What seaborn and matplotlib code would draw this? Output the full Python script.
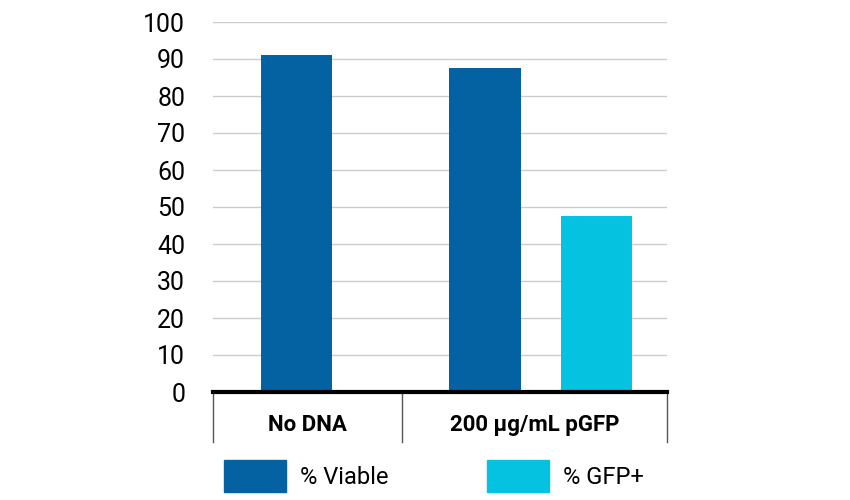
import matplotlib
matplotlib.use("Agg")
import matplotlib.pyplot as plt
import seaborn as sns
import pandas as pd
from matplotlib.patches import Patch

groups = ["No DNA", "200 µg/mL pGFP"]
series = ["% Viable", "% Viable", "% GFP+"]
values = [91, 87.6, 47.6]
bar_pos = [2.965, 4.85, 5.965]          # layout positions
group_centers = [3.075, 5.345]
separators = [2.13, 4.02, 6.67]
colors = {"% Viable": "#0462A2", "% GFP+": "#04C2E0"}

plt.rcParams["font.family"] = "Roboto"
df = pd.DataFrame({"pos": bar_pos, "value": values, "series": series})

fig = plt.figure(figsize=(8.5, 5), dpi=100)
ax = fig.add_axes([213/850, 108/500, 454/850, 370/500])
sns.barplot(data=df, x="pos", y="value", hue="series", palette=colors,
            native_scale=True, dodge=False, width=0.64, legend=False, ax=ax,
            saturation=1, zorder=3)
ax.set_xlim(2.13, 6.67)
ax.set_ylim(0, 100)
ax.set_yticks(range(0, 101, 10))
ax.yaxis.grid(True, color="#cccccc", linewidth=1, zorder=0)
ax.set_axisbelow(True)
for s in ["top", "right", "left"]:
    ax.spines[s].set_visible(False)
ax.spines["bottom"].set_linewidth(3)
ax.spines["bottom"].set_zorder(5)
ax.tick_params(axis="y", length=0, labelsize=18, pad=20)
ax.set_xticks([])
ax.set_xlabel("")
ax.set_ylabel("")
for x in separators:
    ax.plot([x, x], [0, -13.5], color="#555555", lw=1, clip_on=False)
for x, g in zip(group_centers, groups):
    ax.text(x, -9, g, ha="center", va="center", fontsize=16, fontweight="bold")
handles = [Patch(color=colors[k]) for k in ["% Viable", "% GFP+"]]
fig.legend(handles, ["% Viable", "% GFP+"], loc="center left",
           bbox_to_anchor=(203/850, 24/500), ncol=2, frameon=False,
           fontsize=17, handlelength=2.6, handleheight=1.7,
           handletextpad=0.6, columnspacing=4.2)
fig.savefig("out.png")
